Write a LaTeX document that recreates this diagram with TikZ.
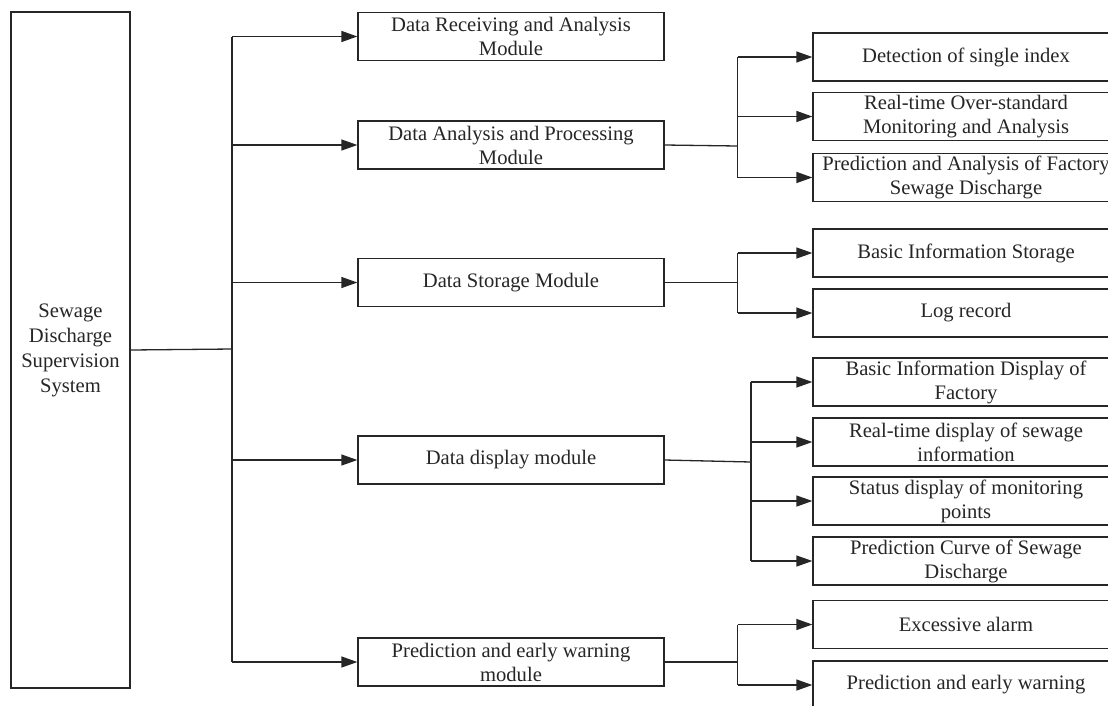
\documentclass[tikz,border=0pt]{standalone}
\usepackage{fontspec}
\setmainfont{Liberation Serif}
\usetikzlibrary{arrows.meta}
\begin{document}
\begin{tikzpicture}[x=1pt,y=-1pt,
  box/.style={draw=black!85,line width=1.3pt,inner sep=0pt,align=center,
    font=\fontsize{20.6}{24}\selectfont,text=black!85},
  mid/.style={box,minimum width=306pt,minimum height=48pt},
  sub/.style={box,minimum width=306pt,minimum height=48pt},
  link/.style={draw=black!85,line width=1.3pt},
  arr/.style={link,-{Triangle[length=16pt,width=11pt]}}]
\useasboundingbox[fill=white] (0,0) rectangle (1108,705);
% root
\node[box,minimum width=119pt,minimum height=676pt,font=\fontsize{20.6}{25}\selectfont] (L) at (70.5,350) {Sewage\\Discharge\\Supervision\\System};
% modules
\node[mid] (M1) at (511,36.5) {Data Receiving and Analysis\\Module};
\node[mid] (M2) at (511,145) {Data Analysis and Processing\\Module};
\node[mid] (M3) at (511,282.5) {Data Storage Module};
\node[mid] (M4) at (511,460) {Data display module};
\node[mid] (M5) at (511,662) {Prediction and early warning\\module};
% sub boxes
\node[sub] (R1) at (966,57) {Detection of single index};
\node[sub] (R2) at (966,116.5) {Real-time Over-standard\\Monitoring and Analysis};
\node[sub] (R3) at (966,177.5) {Prediction and Analysis of Factory\\Sewage Discharge};
\node[sub] (R4) at (966,253) {Basic Information Storage};
\node[sub] (R5) at (966,313) {Log record};
\node[sub] (R6) at (966,382) {Basic Information Display of\\Factory};
\node[sub] (R7) at (966,442) {Real-time display of sewage\\information};
\node[sub] (R8) at (966,501) {Status display of monitoring\\points};
\node[sub] (R9) at (966,561) {Prediction Curve of Sewage\\Discharge};
\node[sub] (R10) at (966,624.5) {Excessive alarm};
\node[sub] (R11) at (966,685) {Prediction and early warning};
% trunk
\coordinate (T) at (232,349);
\draw[link] (L.east |- 0,350) -- (T);
\draw[link] (T |- M1.west) -- (T |- M5.west);
\foreach \m in {M1,M2,M3,M4,M5} \draw[arr] (T |- \m.west) -- (\m.west);
% analysis branch
\coordinate (B2) at (737.5,146);
\draw[link] (M2.east) -- (B2);
\draw[link] (B2 |- R1.west) -- (B2 |- R3.west);
\foreach \r in {R1,R2,R3} \draw[arr] (B2 |- \r.west) -- (\r.west);
% storage branch
\coordinate (B3) at (737.5,282.5);
\draw[link] (M3.east) -- (B3);
\draw[link] (B3 |- R4.west) -- (B3 |- R5.west);
\foreach \r in {R4,R5} \draw[arr] (B3 |- \r.west) -- (\r.west);
% display branch
\coordinate (B4) at (751,462);
\draw[link] (M4.east) -- (B4);
\draw[link] (B4 |- R6.west) -- (B4 |- R9.west);
\foreach \r in {R6,R7,R8,R9} \draw[arr] (B4 |- \r.west) -- (\r.west);
% warning branch
\coordinate (B5) at (737.5,662);
\draw[link] (M5.east) -- (B5);
\draw[link] (B5 |- R10.west) -- (B5 |- R11.west);
\foreach \r in {R10,R11} \draw[arr] (B5 |- \r.west) -- (\r.west);
\end{tikzpicture}
\end{document}
